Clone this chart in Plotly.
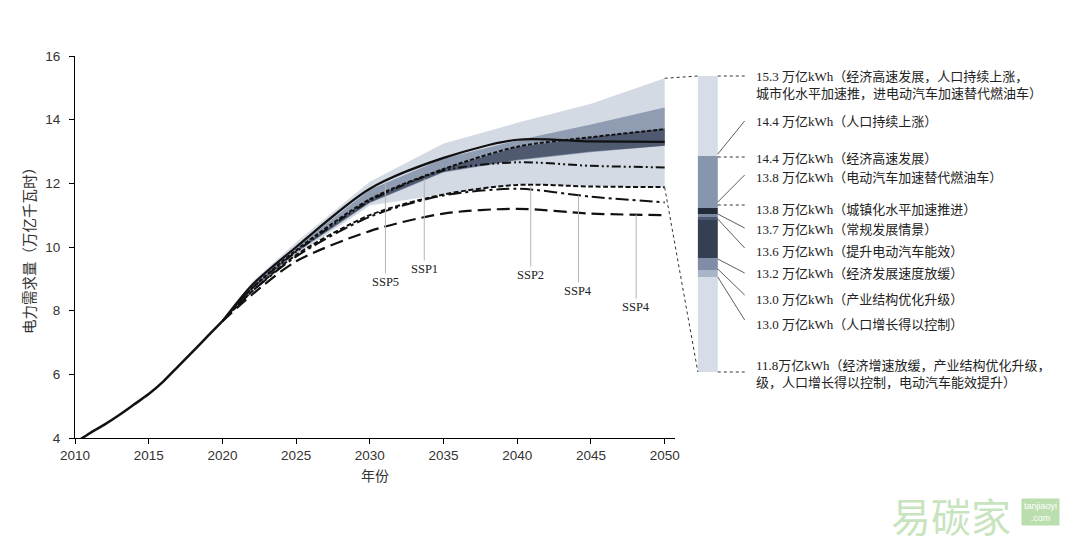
import numpy as np
import plotly.graph_objects as go

# ---------------- data ----------------
hist_years = [2010, 2011, 2012, 2013, 2014, 2015, 2016, 2017, 2018, 2019, 2020]
hist_values = [3.85, 4.15, 4.42, 4.72, 5.05, 5.38, 5.78, 6.25, 6.72, 7.2, 7.67]

proj_years = [2020, 2022, 2025, 2030, 2035, 2040, 2045, 2050]
ssp5_solid = [7.67, 8.8, 10.0, 11.83, 12.8, 13.37, 13.32, 13.3]
upper_dash = [7.67, 8.7, 9.9, 11.5, 12.45, 13.15, 13.45, 13.7]
ssp1_dashdot = [7.67, 8.7, 9.85, 11.45, 12.4, 12.66, 12.55, 12.5]
ssp2_dash = [7.67, 8.6, 9.75, 11.0, 11.65, 11.95, 11.9, 11.88]
ssp4_dashdot = [7.67, 8.6, 9.7, 10.95, 11.62, 11.83, 11.58, 11.4]
ssp4_longdash = [7.67, 8.5, 9.55, 10.5, 11.05, 11.2, 11.05, 11.0]

band_outer_hi = [7.7, 8.9, 10.15, 12.05, 13.25, 13.9, 14.5, 15.3]
band_outer_lo = [7.65, 8.55, 9.75, 11.3, 11.66, 11.97, 11.92, 11.87]
band_mid_hi = [7.68, 8.82, 10.0, 11.8, 12.78, 13.35, 13.85, 14.38]
band_mid_lo = [7.66, 8.66, 9.82, 11.38, 12.34, 12.72, 12.98, 13.18]
band_dark_hi = [7.67, 8.72, 9.9, 11.52, 12.47, 13.14, 13.45, 13.72]
band_dark_lo = [7.66, 8.68, 9.84, 11.4, 12.36, 12.74, 13.0, 13.18]

ssp_names = ["SSP5", "SSP1", "SSP2", "SSP4", "SSP4"]

x_ticks = [2010, 2015, 2020, 2025, 2030, 2035, 2040, 2045, 2050]
y_ticks = [4, 6, 8, 10, 12, 14, 16]

summary_labels = [
    "15.3 万亿kWh（经济高速发展，人口持续上涨，<br>城市化水平加速推，进电动汽车加速替代燃油车）",
    "14.4 万亿kWh（人口持续上涨）",
    "14.4 万亿kWh（经济高速发展）",
    "13.8 万亿kWh（电动汽车加速替代燃油车）",
    "13.8 万亿kWh（城镇化水平加速推进）",
    "13.7 万亿kWh（常规发展情景）",
    "13.6 万亿kWh（提升电动汽车能效）",
    "13.2 万亿kWh（经济发展速度放缓）",
    "13.0 万亿kWh（产业结构优化升级）",
    "13.0 万亿kWh（人口增长得以控制）",
    "11.8万亿kWh（经济增速放缓，产业结构优化升级，<br>级，人口增长得以控制，电动汽车能效提升）",
]

# schematic column (levels on the schematic scale, bottom -> top)
bar_levels = [66, 161, 168, 180, 218, 221, 224, 230, 282, 362]
bar_colors = ["#d7dde7", "#a9b4c6", "#7f8da6", "#343f53", "#4b5670",
              "#7d89a1", "#232b3a", "#8795ad", "#d7dde7"]

# ---------------- layout constants (page pixel coordinates) ----------------
W, H = 1079, 551
PAGE_OFF = 8                      # default body margin of the html page
ML, MR, MT, MB = 75, 0, 56, 113   # plot area position on the page
PW = W - ML - MR
PH = H - MT - MB
X_RANGE = [2010, 2050.7]
MAIN_RIGHT_PX = 678
x_dom_end = (MAIN_RIGHT_PX - ML) / PW
X2_DOM_START = 0.58
x2_left = ML + X2_DOM_START * PW

FONT_CN = "Liberation Serif, Noto Sans CJK SC, sans-serif"
FONT_AX = "Liberation Sans, Noto Sans CJK SC, sans-serif"


def year_to_px(yr):
    return ML + (yr - X_RANGE[0]) / (X_RANGE[1] - X_RANGE[0]) * (MAIN_RIGHT_PX - ML)


def val_to_level(v):
    return (v - 4) / 12 * PH


def px_to_level(py):
    return (MT + PH) - py


def px_to_year(px):
    return X_RANGE[0] + (px - ML) / (MAIN_RIGHT_PX - ML) * (X_RANGE[1] - X_RANGE[0])


def py_to_val(py):
    return 4 + (MT + PH - py) / PH * 12


fig = go.Figure()


def add_band(hi, lo, color):
    fig.add_trace(go.Scatter(
        x=proj_years + proj_years[::-1], y=hi + lo[::-1],
        fill="toself", fillcolor=color, mode="lines", line=dict(width=0),
        hoverinfo="skip", showlegend=False))


add_band(band_outer_hi, band_outer_lo, "#d4dae4")
add_band(band_mid_hi, band_mid_lo, "#8f9cb2")
add_band(band_dark_hi, band_dark_lo, "#4f5a70")

line_specs = [
    (ssp4_longdash, "13px,6px", 2.2),
    (ssp4_dashdot, "13px,4px,3px,4px", 2.0),
    (ssp2_dash, "5px,2.5px", 2.0),
    (ssp1_dashdot, "9px,3px,2px,3px,2px,3px", 2.0),
    (upper_dash, "4px,2px", 2.0),
    (ssp5_solid, "solid", 2.2),
]
for vals, dash, w in line_specs:
    fig.add_trace(go.Scatter(
        x=proj_years, y=vals, mode="lines",
        line=dict(color="#111111", width=w, dash=dash, shape="spline", smoothing=0.8),
        hoverinfo="skip", showlegend=False))

fig.add_trace(go.Scatter(
    x=hist_years, y=hist_values, mode="lines",
    line=dict(color="#111111", width=2.5, shape="spline", smoothing=0.6),
    hoverinfo="skip", showlegend=False))

# schematic column on secondary axes
BAR_X, BAR_W = 711, 20
for i, col in enumerate(bar_colors):
    fig.add_trace(go.Bar(
        x=[BAR_X], y=[bar_levels[i + 1] - bar_levels[i]], base=[bar_levels[i]],
        width=BAR_W, marker=dict(color=col, line=dict(width=0)),
        xaxis="x2", yaxis="y2", hoverinfo="skip", showlegend=False))

# SSP pointer labels
ssp_label_px = [(387, 282), (426, 269), (533, 275), (581, 291), (639, 307)]
ssp_series = [ssp5_solid, ssp1_dashdot, ssp2_dash, ssp4_dashdot, ssp4_longdash]
annotations = []
for name, (px, py), ser in zip(ssp_names, ssp_label_px, ssp_series):
    yr = px_to_year(px)
    target = float(np.interp(yr, proj_years, ser))
    annotations.append(dict(
        x=yr, y=target, xref="x", yref="y",
        ax=yr, ay=py_to_val(py), axref="x", ayref="y",
        text=name, showarrow=True, arrowhead=0, arrowwidth=1,
        arrowcolor="#b4b4b4", standoff=0, startstandoff=0,
        font=dict(family="Liberation Serif, serif", size=12.5, color="#222")))

# right-hand labels and leaders
label_y_px = [85, 121, 158, 177, 209, 229, 251, 273, 299, 324, 374]
leaders = [(76, 76, "dot"), (154, 121, "solid"), (157, 157, "dot"), (202, 175, "solid"),
           (205, 205, "dot"), (214, 228, "solid"), (219, 248, "solid"), (259, 273, "solid"),
           (269, 295, "solid"), (277, 320, "solid"), (372, 372, "dot")]
LEAD_X0, LEAD_X1, TEXT_X = BAR_X + BAR_W / 2, 748, 757
shapes = []
for txt, ly in zip(summary_labels, label_y_px):
    annotations.append(dict(
        x=TEXT_X, y=px_to_level(ly), xref="x2", yref="y2", xanchor="left", yanchor="middle",
        align="left", text=txt, showarrow=False,
        font=dict(family=FONT_CN, size=13, color="#222")))
for y0, y1, st in leaders:
    shapes.append(dict(
        type="line", xref="x2", yref="y2",
        x0=LEAD_X0, y0=px_to_level(y0), x1=LEAD_X1, y1=px_to_level(y1),
        line=dict(color="#333", width=1 if st == "dot" else 0.8,
                  dash="dot" if st == "dot" else "solid")))

# connectors from fan end to column
end_px = year_to_px(proj_years[-1])
for v, lvl in [(band_outer_hi[-1], bar_levels[-1]), (band_outer_lo[-1], bar_levels[0])]:
    shapes.append(dict(
        type="line", xref="x2", yref="y2",
        x0=end_px, y0=val_to_level(v), x1=BAR_X - BAR_W / 2, y1=lvl,
        line=dict(color="#333", width=1, dash="dot")))

# watermark
annotations.append(dict(
    x=(955 - ML) / PW, y=(MT + PH - 515) / PH, xref="paper", yref="paper",
    xanchor="center", yanchor="middle",
    text="易碳家", showarrow=False,
    font=dict(family="Noto Sans CJK SC", size=40, color="rgba(150,205,135,0.55)")))
annotations.append(dict(
    x=(1045 - ML) / PW, y=(MT + PH - 512) / PH, xref="paper", yref="paper",
    xanchor="center", yanchor="middle",
    text="tanjiaoyi<br>.com", showarrow=False, bgcolor="rgba(140,200,120,0.6)",
    borderpad=2, font=dict(family="Liberation Sans", size=9, color="white")))

fig.update_layout(
    width=W - PAGE_OFF, height=H - PAGE_OFF,
    margin=dict(l=ML - PAGE_OFF, r=MR, t=MT - PAGE_OFF, b=MB),
    paper_bgcolor="white", plot_bgcolor="rgba(0,0,0,0)",
    showlegend=False, barmode="overlay",
    xaxis=dict(domain=[0, x_dom_end], range=X_RANGE, tickvals=x_ticks,
               ticks="outside", ticklen=5, tickcolor="#000", showline=True,
               linecolor="#000", linewidth=1, showgrid=False, zeroline=False,
               tickfont=dict(family=FONT_AX, size=13.5, color="#333"),
               title=dict(text="年份", standoff=8,
                          font=dict(family="Noto Sans CJK SC", size=14, color="#333"))),
    yaxis=dict(range=[4, 16], tickvals=y_ticks, ticks="outside", ticklen=5,
               tickcolor="#000", showline=True, linecolor="#000", linewidth=1,
               showgrid=False, zeroline=False, ticklabelstandoff=6,
               tickfont=dict(family=FONT_AX, size=13.5, color="#333"),
               title=dict(text="电力需求量（万亿千瓦时）", standoff=6,
                          font=dict(family="Noto Sans CJK SC", size=14.5, color="#333"))),
    xaxis2=dict(domain=[X2_DOM_START, 1], range=[x2_left, W], visible=False,
                anchor="y2", fixedrange=True),
    yaxis2=dict(domain=[0, 1], range=[0, PH], visible=False, anchor="x2",
                fixedrange=True),
    shapes=shapes, annotations=annotations,
)

fig.write_html("out.html")
